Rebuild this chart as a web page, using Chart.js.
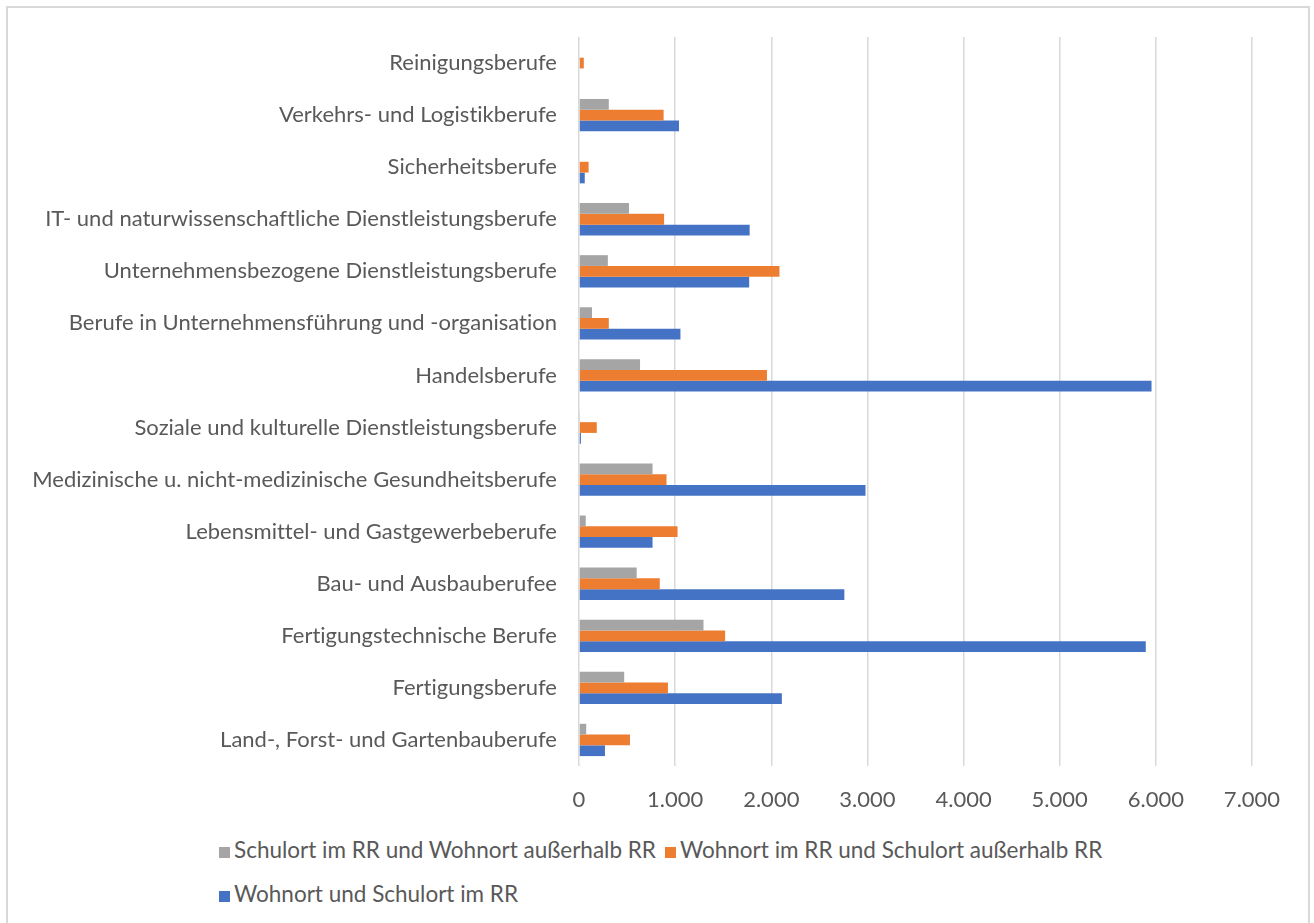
<!DOCTYPE html>
<html>
<head>
<meta charset="utf-8">
<script src="https://cdn.jsdelivr.net/npm/chart.js@4/dist/chart.umd.min.js"></script>
<style>
body{margin:0;background:#fff;font-family:Lato,"Open Sans",sans-serif;}
#wrap{position:relative;width:1314px;height:923px;overflow:hidden;}
#frame{position:absolute;left:6px;top:6px;width:1300px;height:960px;border:2px solid #d9d9d9;}
#c{position:absolute;left:0;top:0;}
.leg{position:absolute;font-size:22.5px;color:#595959;white-space:nowrap;line-height:26px;font-variant-ligatures:none;}
.leg span.box{display:inline-block;width:11px;height:11px;margin-right:4px;vertical-align:0px;}
</style>
</head>
<body>
<div id="wrap">
<div id="frame"></div>
<canvas id="c" width="1314" height="830"></canvas>
<div id="legend"></div>
</div>
<script>
// categories, top to bottom as in the picture
const labels=[
"Reinigungsberufe",
"Verkehrs- und Logistikberufe",
"Sicherheitsberufe",
"IT- und naturwissenschaftliche Dienstleistungsberufe",
"Unternehmensbezogene Dienstleistungsberufe",
"Berufe in Unternehmensführung und -organisation",
"Handelsberufe",
"Soziale und kulturelle Dienstleistungsberufe",
"Medizinische u. nicht-medizinische Gesundheitsberufe",
"Lebensmittel- und Gastgewerbeberufe",
"Bau- und Ausbauberufee",
"Fertigungstechnische Berufe",
"Fertigungsberufe",
"Land-, Forst- und Gartenbauberufe"
];

const schulortImRR=[0,310,0,520,300,135,635,10,765,70,600,1295,470,75];
const wohnortImRR=[50,880,100,885,2085,310,1955,185,910,1025,840,1520,925,530];
const beideImRR=[0,1040,60,1775,1770,1055,5955,20,2980,765,2760,5895,2110,270];

const seriesNames=[
"Schulort im RR und Wohnort außerhalb RR",
"Wohnort im RR und Schulort außerhalb RR",
"Wohnort und Schulort im RR"
];
const colors=["#a5a5a5","#ed7d31","#4472c4"];

const font={family:"Lato, 'Open Sans', sans-serif",size:22};

// no ti/fi ligatures in canvas text
const noLig={id:"noLig",beforeDraw:c=>{c.ctx.letterSpacing="0.01px";}};

const chart=new Chart(document.getElementById("c"),{
type:"bar",
data:{
labels:labels,
datasets:[
{label:seriesNames[0],data:schulortImRR,backgroundColor:colors[0]},
{label:seriesNames[1],data:wohnortImRR,backgroundColor:colors[1]},
{label:seriesNames[2],data:beideImRR,backgroundColor:colors[2]}
]},
options:{
indexAxis:"y",
responsive:false,
animation:false,
datasets:{bar:{categoryPercentage:0.62,barPercentage:1}},
layout:{padding:{top:37,right:62,left:0,bottom:0}},
plugins:{legend:{display:false},tooltip:{enabled:false}},
scales:{
x:{
min:0,max:7000,
ticks:{stepSize:1000,color:"#595959",font:font,padding:21,
callback:v=>v.toLocaleString("de-DE")},
grid:{color:"#d9d9d9",lineWidth:1.5,drawTicks:false},
border:{display:false},
afterFit:s=>{s.height=64;}
},
y:{
ticks:{color:"#595959",font:font,padding:22,autoSkip:false},
grid:{display:false,drawTicks:false},
border:{display:false},
afterFit:s=>{s.width=579;}
}
}
},
plugins:[noLig]
});

// legend in two rows like the original
const leg=document.getElementById("legend");
const rows=[[0,1],[2]];
const rowY=[837,881];
rows.forEach((r,ri)=>{
const d=document.createElement("div");
d.className="leg";
d.style.left="219px";
d.style.top=rowY[ri]+"px";
d.innerHTML=r.map(i=>'<span class="box" style="background:'+colors[i]+'"></span>'+seriesNames[i]).join('<span style="display:inline-block;width:9px"></span>');
leg.appendChild(d);
});
</script>
</body>
</html>
